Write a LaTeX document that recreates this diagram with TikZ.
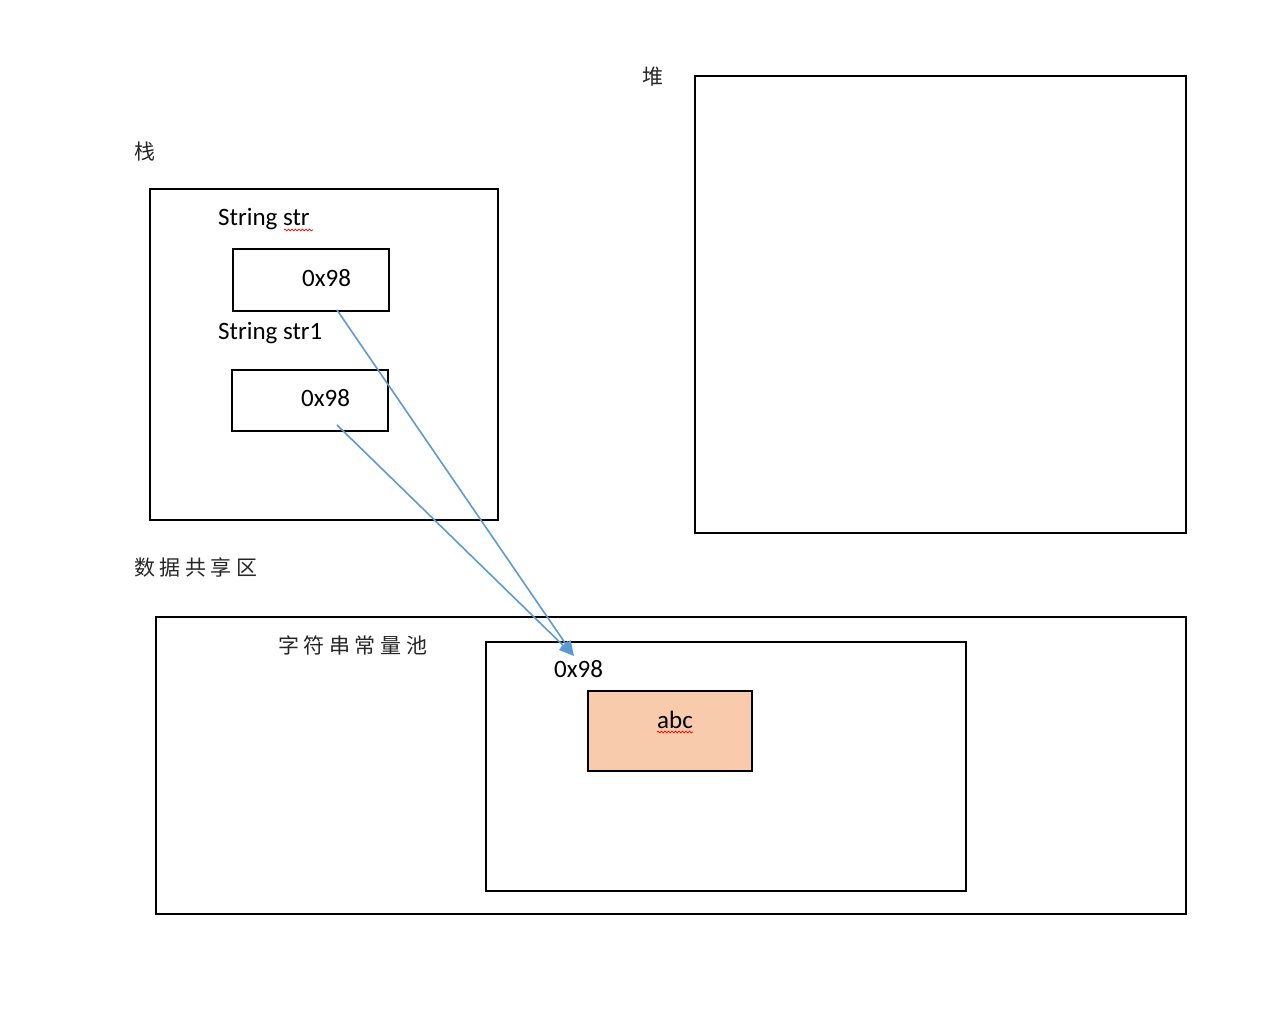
\documentclass[tikz,border=0pt]{standalone}
\usepackage{fontspec}
\setmainfont{Carlito}
\newfontfamily\cjk{Noto Sans CJK SC}
\usetikzlibrary{arrows.meta,decorations.pathmorphing}
\newcommand{\cgap}{\hspace{4.6pt}}
\begin{document}
\begin{tikzpicture}[x=1pt,y=-1pt,
  box/.style={draw=black,line width=1.6pt,inner sep=0pt,outer sep=0pt},
  lbl/.style={inner sep=0pt,font=\fontsize{25}{30}\selectfont,anchor=base west},
  cn/.style={inner sep=0pt,font=\cjk\fontsize{21}{25}\selectfont,anchor=west,text=black!85},
  conn/.style={draw={rgb,255:red,91;green,155;blue,213},line width=1.6pt,-{Triangle[length=15pt,width=12pt]}},
  squig/.style={draw=red,line width=0.7pt,decorate,decoration={snake,amplitude=0.9pt,segment length=3.5pt}}]
\useasboundingbox (0,0) rectangle (1270,1033);
% boxes
\node[box,minimum width=348pt,minimum height=331pt,anchor=north west] (stack) at (150,189) {};
\node[box,minimum width=156pt,minimum height=62pt,anchor=north west] (b1) at (233,249) {};
\node[box,minimum width=156pt,minimum height=61pt,anchor=north west] (b2) at (232,370) {};
\node[box,minimum width=491pt,minimum height=457pt,anchor=north west] (heap) at (695,76) {};
\node[box,minimum width=1030pt,minimum height=297pt,anchor=north west] (shared) at (156,617) {};
\node[box,minimum width=480pt,minimum height=249pt,anchor=north west] (pool) at (486,642) {};
\node[box,fill={rgb,255:red,248;green,203;blue,173},minimum width=164pt,minimum height=80pt,anchor=north west] (abcbox) at (588,691) {};
% labels
\node[cn] (lstack) at (134,152) {栈};
\node[cn] (lheap) at (642,77) {堆};
\node[cn] (lshared) at (134,567) {数\cgap 据\cgap 共\cgap 享\cgap 区};
\node[cn] (lpool) at (278,645) {字\cgap 符\cgap 串\cgap 常\cgap 量\cgap 池};
\node[lbl] (t1) at (218,225) {String str};
\node[lbl] (v1) at (302,286) {0x98};
\node[lbl] (t2) at (218,339) {String str1};
\node[lbl] (v2) at (301,406) {0x98};
\node[lbl] (v3) at (554,677) {0x98};
\node[lbl] (abc) at (657,728) {abc};
% spell-check squiggles
\coordinate (q1a) at (284,230); \coordinate (q1b) at (313,230);
\coordinate (q2a) at (657,732); \coordinate (q2b) at (693,732);
\draw[squig] (q1a) -- (q1b);
\draw[squig] (q2a) -- (q2b);
% connectors
\coordinate (s1) at (337,310);
\coordinate (s2) at (337,425);
\coordinate (tip) at (574,656);
\draw[conn] (s1) -- (tip);
\draw[conn] (s2) -- (tip);
\end{tikzpicture}
\end{document}
